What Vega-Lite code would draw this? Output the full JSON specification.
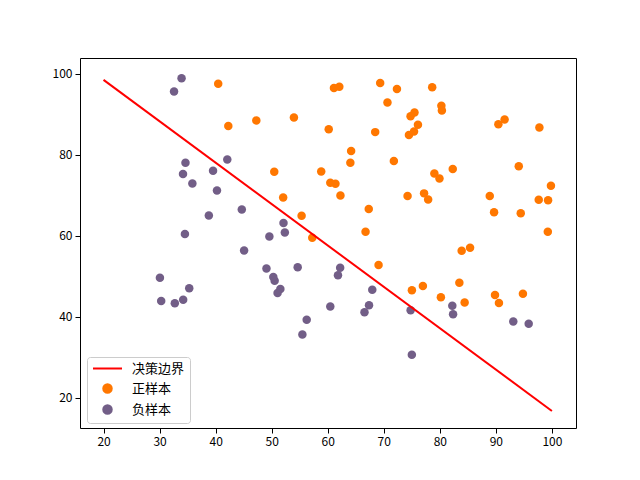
{
  "$schema": "https://vega.github.io/schema/vega-lite/v6.json",
  "width": 496,
  "height": 370,
  "autosize": {"type": "none"},
  "padding": {"left": 80, "top": 58, "right": 64, "bottom": 52},
  "background": "white",
  "config": {
    "view": {"stroke": "black", "strokeWidth": 1},
    "font": "Noto Sans CJK SC",
    "axis": {
      "grid": false,
      "domain": false,
      "tickColor": "black",
      "tickSize": 5,
      "tickWidth": 1,
      "labelColor": "black",
      "labelFont": "Noto Sans CJK SC",
      "labelFontSize": 12,
      "labelPadding": 3,
      "title": null
    },
    "legend": {
      "title": null,
      "orient": "none",
      "legendX": 7,
      "legendY": 299,
      "fillColor": "rgba(255,255,255,0.8)",
      "strokeColor": "#cccccc",
      "cornerRadius": 3,
      "padding": 5,
      "labelFont": "Noto Sans CJK SC",
      "labelFontSize": 13,
      "labelColor": "black",
      "symbolOffset": 9,
      "labelOffset": 18,
      "rowPadding": 4
    }
  },
  "datasets": {
    "pts": [
      {"x": 34.62, "y": 78.02, "type": "负样本"},
      {"x": 30.29, "y": 43.89, "type": "负样本"},
      {"x": 35.85, "y": 72.90, "type": "负样本"},
      {"x": 60.18, "y": 86.31, "type": "正样本"},
      {"x": 79.03, "y": 75.34, "type": "正样本"},
      {"x": 45.08, "y": 56.32, "type": "负样本"},
      {"x": 61.11, "y": 96.51, "type": "正样本"},
      {"x": 75.02, "y": 46.55, "type": "正样本"},
      {"x": 76.10, "y": 87.42, "type": "正样本"},
      {"x": 84.43, "y": 43.53, "type": "正样本"},
      {"x": 95.86, "y": 38.23, "type": "负样本"},
      {"x": 75.01, "y": 30.60, "type": "负样本"},
      {"x": 82.31, "y": 76.48, "type": "正样本"},
      {"x": 69.36, "y": 97.72, "type": "正样本"},
      {"x": 39.54, "y": 76.04, "type": "负样本"},
      {"x": 53.97, "y": 89.21, "type": "正样本"},
      {"x": 69.07, "y": 52.74, "type": "正样本"},
      {"x": 67.95, "y": 46.68, "type": "负样本"},
      {"x": 70.66, "y": 92.93, "type": "正样本"},
      {"x": 76.98, "y": 47.58, "type": "正样本"},
      {"x": 67.37, "y": 42.84, "type": "负样本"},
      {"x": 89.68, "y": 65.80, "type": "正样本"},
      {"x": 50.53, "y": 48.86, "type": "负样本"},
      {"x": 34.21, "y": 44.21, "type": "负样本"},
      {"x": 77.92, "y": 68.97, "type": "正样本"},
      {"x": 62.27, "y": 69.95, "type": "正样本"},
      {"x": 80.19, "y": 44.82, "type": "正样本"},
      {"x": 93.11, "y": 38.80, "type": "负样本"},
      {"x": 61.83, "y": 50.26, "type": "负样本"},
      {"x": 38.79, "y": 65.00, "type": "负样本"},
      {"x": 61.38, "y": 72.81, "type": "正样本"},
      {"x": 85.40, "y": 57.05, "type": "正样本"},
      {"x": 52.11, "y": 63.13, "type": "负样本"},
      {"x": 52.05, "y": 69.43, "type": "正样本"},
      {"x": 40.24, "y": 71.17, "type": "负样本"},
      {"x": 54.64, "y": 52.21, "type": "负样本"},
      {"x": 33.92, "y": 98.87, "type": "负样本"},
      {"x": 64.18, "y": 80.91, "type": "正样本"},
      {"x": 74.79, "y": 41.57, "type": "负样本"},
      {"x": 34.18, "y": 75.24, "type": "负样本"},
      {"x": 83.90, "y": 56.31, "type": "正样本"},
      {"x": 51.55, "y": 46.86, "type": "负样本"},
      {"x": 94.44, "y": 65.57, "type": "正样本"},
      {"x": 82.37, "y": 40.62, "type": "负样本"},
      {"x": 51.05, "y": 45.82, "type": "负样本"},
      {"x": 62.22, "y": 52.06, "type": "负样本"},
      {"x": 77.19, "y": 70.46, "type": "正样本"},
      {"x": 97.77, "y": 86.73, "type": "正样本"},
      {"x": 62.07, "y": 96.77, "type": "正样本"},
      {"x": 91.56, "y": 88.70, "type": "正样本"},
      {"x": 79.94, "y": 74.16, "type": "正样本"},
      {"x": 99.27, "y": 61.00, "type": "正样本"},
      {"x": 90.55, "y": 43.39, "type": "正样本"},
      {"x": 34.52, "y": 60.40, "type": "负样本"},
      {"x": 50.29, "y": 49.80, "type": "负样本"},
      {"x": 49.59, "y": 59.81, "type": "负样本"},
      {"x": 97.65, "y": 68.86, "type": "正样本"},
      {"x": 32.58, "y": 95.60, "type": "负样本"},
      {"x": 74.25, "y": 69.82, "type": "正样本"},
      {"x": 71.80, "y": 78.45, "type": "正样本"},
      {"x": 75.40, "y": 85.76, "type": "正样本"},
      {"x": 35.29, "y": 47.02, "type": "负样本"},
      {"x": 56.25, "y": 39.26, "type": "负样本"},
      {"x": 30.06, "y": 49.59, "type": "负样本"},
      {"x": 44.67, "y": 66.45, "type": "负样本"},
      {"x": 66.56, "y": 41.09, "type": "负样本"},
      {"x": 40.46, "y": 97.54, "type": "正样本"},
      {"x": 49.07, "y": 51.88, "type": "负样本"},
      {"x": 80.28, "y": 92.12, "type": "正样本"},
      {"x": 66.75, "y": 60.99, "type": "正样本"},
      {"x": 32.72, "y": 43.31, "type": "负样本"},
      {"x": 64.04, "y": 78.03, "type": "正样本"},
      {"x": 72.35, "y": 96.23, "type": "正样本"},
      {"x": 60.46, "y": 73.09, "type": "正样本"},
      {"x": 58.84, "y": 75.86, "type": "正样本"},
      {"x": 99.83, "y": 72.37, "type": "正样本"},
      {"x": 47.26, "y": 88.48, "type": "正样本"},
      {"x": 50.46, "y": 75.81, "type": "正样本"},
      {"x": 60.46, "y": 42.51, "type": "负样本"},
      {"x": 82.23, "y": 42.72, "type": "负样本"},
      {"x": 88.91, "y": 69.80, "type": "正样本"},
      {"x": 94.83, "y": 45.69, "type": "正样本"},
      {"x": 67.32, "y": 66.59, "type": "正样本"},
      {"x": 57.24, "y": 59.51, "type": "正样本"},
      {"x": 80.37, "y": 90.96, "type": "正样本"},
      {"x": 68.47, "y": 85.59, "type": "正样本"},
      {"x": 42.08, "y": 78.84, "type": "负样本"},
      {"x": 75.48, "y": 90.42, "type": "正样本"},
      {"x": 78.64, "y": 96.65, "type": "正样本"},
      {"x": 52.35, "y": 60.77, "type": "负样本"},
      {"x": 94.09, "y": 77.16, "type": "正样本"},
      {"x": 90.45, "y": 87.51, "type": "正样本"},
      {"x": 55.48, "y": 35.57, "type": "负样本"},
      {"x": 74.49, "y": 84.85, "type": "正样本"},
      {"x": 89.85, "y": 45.36, "type": "正样本"},
      {"x": 83.49, "y": 48.38, "type": "正样本"},
      {"x": 42.26, "y": 87.10, "type": "正样本"},
      {"x": 99.32, "y": 68.78, "type": "正样本"},
      {"x": 55.34, "y": 64.93, "type": "正样本"},
      {"x": 74.78, "y": 89.53, "type": "正样本"}
    ],
    "boundary": [
      {"x": 20, "y": 98.5, "type": "决策边界"},
      {"x": 100, "y": 16.7, "type": "决策边界"}
    ]
  },
  "layer": [
    {
      "data": {"name": "pts"},
      "mark": {"type": "point", "filled": true, "opacity": 1, "size": 72, "shape": "circle"},
      "encoding": {
        "x": {"field": "x", "type": "quantitative", "scale": {"domain": [15.8, 104.3], "nice": false, "zero": false},
              "axis": {"values": [20, 30, 40, 50, 60, 70, 80, 90, 100]}},
        "y": {"field": "y", "type": "quantitative", "scale": {"domain": [12.5, 103.9], "nice": false, "zero": false},
              "axis": {"values": [20, 40, 60, 80, 100]}},
        "color": {
          "field": "type", "type": "nominal",
          "scale": {"domain": ["决策边界", "正样本", "负样本"], "range": ["#ff0000", "#ff7700", "#725e87"]},
          "legend": {
            "encode": {
              "symbols": {
                "update": {
                  "shape": {"signal": "datum.value === '决策边界' ? 'stroke' : 'circle'"},
                  "size": {"signal": "datum.value === '决策边界' ? 841 : 72"},
                  "fill": {"signal": "datum.value === '决策边界' ? 'transparent' : (datum.value === '正样本' ? '#ff7700' : '#725e87')"},
                  "stroke": {"signal": "datum.value === '决策边界' ? '#ff0000' : 'transparent'"},
                  "strokeWidth": {"value": 2},
                  "opacity": {"value": 1}
                }
              }
            }
          }
        }
      }
    },
    {
      "data": {"name": "boundary"},
      "mark": {"type": "line", "strokeWidth": 2},
      "encoding": {
        "x": {"field": "x", "type": "quantitative"},
        "y": {"field": "y", "type": "quantitative"},
        "color": {"field": "type", "type": "nominal",
          "legend": {
            "encode": {
              "symbols": {
                "update": {
                  "shape": {"signal": "datum.value === '决策边界' ? 'stroke' : 'circle'"},
                  "size": {"signal": "datum.value === '决策边界' ? 841 : 72"},
                  "fill": {"signal": "datum.value === '决策边界' ? 'transparent' : (datum.value === '正样本' ? '#ff7700' : '#725e87')"},
                  "stroke": {"signal": "datum.value === '决策边界' ? '#ff0000' : 'transparent'"},
                  "strokeWidth": {"value": 2},
                  "opacity": {"value": 1}
                }
              }
            }
          }
        }
      }
    }
  ]
}
